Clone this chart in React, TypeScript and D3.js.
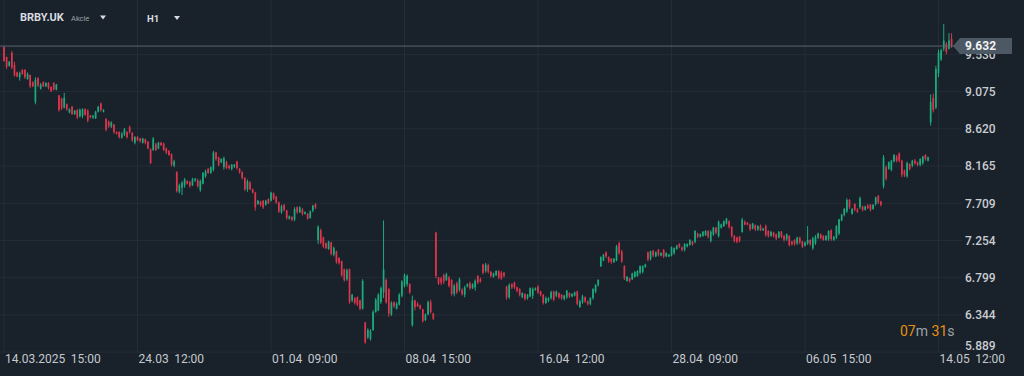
import React from "react";
import * as d3 from "d3";

// ---- data (H1 candles, BRBY.UK) ----
const opens = [
  9.62,9.50,9.39,9.55,9.40,9.31,9.25,9.34,9.34,9.23,
  9.28,9.19,8.95,9.24,9.11,9.19,9.14,9.18,9.13,9.18,
  9.10,9.03,8.99,8.88,8.92,8.82,8.89,8.80,8.85,8.77,
  8.78,8.86,8.84,8.78,8.76,8.75,8.83,8.93,8.83,8.74,
  8.71,8.65,8.67,8.58,8.58,8.51,8.55,8.58,8.64,8.57,
  8.45,8.52,8.50,8.45,8.49,8.46,8.37,8.36,8.43,8.38,
  8.45,8.44,8.38,8.35,8.31,8.17,8.09,7.85,7.90,7.93,
  7.98,7.97,7.93,7.99,7.99,7.87,7.95,8.04,8.13,8.08,
  8.12,8.33,8.27,8.21,8.15,8.21,8.17,8.13,8.16,8.22,
  8.13,8.09,8.02,7.88,7.96,7.88,7.84,7.70,7.73,7.74,
  7.69,7.76,7.74,7.83,7.79,7.72,7.60,7.69,7.62,7.52,
  7.54,7.51,7.66,7.60,7.63,7.58,7.58,7.53,7.62,7.70,
  7.26,7.38,7.29,7.22,7.15,7.23,7.08,7.12,7.04,7.00,
  6.90,6.78,6.90,6.52,6.55,6.56,6.52,6.42,6.25,6.07,
  6.05,6.16,6.38,6.40,6.50,6.62,6.77,6.66,6.35,6.50,
  6.42,6.47,6.58,6.70,6.72,6.72,6.22,6.52,6.48,6.46,
  6.41,6.28,6.35,6.50,6.36,7.35,6.80,6.79,6.83,6.77,
  6.80,6.77,6.60,6.73,6.65,6.65,6.59,6.69,6.73,6.67,
  6.68,6.82,6.78,6.96,6.88,6.95,6.87,6.81,6.83,6.88,
  6.86,6.86,6.69,6.56,6.72,6.74,6.68,6.66,6.56,6.60,
  6.55,6.57,6.58,6.65,6.69,6.63,6.59,6.49,6.52,6.55,
  6.63,6.58,6.61,6.59,6.54,6.56,6.61,6.57,6.58,6.63,
  6.44,6.50,6.56,6.51,6.48,6.55,6.63,6.71,6.94,7.01,
  7.11,7.05,7.03,6.99,7.01,7.22,7.12,6.94,6.76,6.79,
  6.78,6.81,6.82,6.86,6.87,6.93,7.11,7.03,7.13,7.06,
  7.14,7.07,7.14,7.06,7.06,7.07,7.10,7.15,7.21,7.17,
  7.14,7.18,7.20,7.24,7.24,7.34,7.30,7.31,7.32,7.37,
  7.25,7.33,7.41,7.31,7.41,7.43,7.46,7.49,7.42,7.31,
  7.29,7.30,7.36,7.48,7.47,7.45,7.40,7.44,7.39,7.43,
  7.38,7.43,7.37,7.31,7.35,7.33,7.29,7.36,7.31,7.27,
  7.31,7.24,7.26,7.22,7.29,7.24,7.19,7.22,7.26,7.16,
  7.22,7.29,7.33,7.31,7.26,7.27,7.38,7.26,7.29,7.34,
  7.50,7.57,7.61,7.75,7.58,7.70,7.63,7.66,7.67,7.63,
  7.68,7.69,7.64,7.70,7.80,7.73,7.92,8.15,8.13,8.12,
  8.22,8.28,8.32,8.23,8.11,8.04,8.19,8.17,8.23,8.21,
  8.18,8.20,8.30,8.23,8.70,9.00,8.88,9.30,9.47,9.60,
  9.66,9.60,9.72,
];
const highs = [
  9.63,9.50,9.45,9.57,9.44,9.32,9.32,9.35,9.35,9.31,
  9.28,9.20,9.25,9.25,9.18,9.20,9.19,9.19,9.14,9.19,
  9.17,9.03,9.00,9.06,8.93,8.87,8.90,8.85,8.86,8.87,
  8.87,8.87,8.86,8.79,8.79,8.84,8.90,8.94,8.86,8.75,
  8.72,8.71,8.68,8.59,8.59,8.58,8.63,8.59,8.66,8.58,
  8.53,8.53,8.51,8.51,8.50,8.47,8.38,8.52,8.45,8.46,
  8.46,8.45,8.39,8.36,8.32,8.24,8.10,7.95,7.98,8.02,
  7.99,7.98,8.02,8.02,8.01,8.00,8.09,8.12,8.14,8.16,
  8.35,8.34,8.28,8.26,8.28,8.23,8.18,8.19,8.19,8.23,
  8.14,8.10,8.03,8.00,7.98,7.89,7.85,7.75,7.74,7.75,
  7.75,7.77,7.85,7.84,7.80,7.73,7.69,7.70,7.63,7.56,
  7.55,7.66,7.67,7.67,7.65,7.61,7.59,7.62,7.69,7.71,
  7.44,7.40,7.30,7.23,7.25,7.24,7.18,7.13,7.05,7.01,
  6.91,6.91,6.91,6.60,6.56,6.57,6.53,6.78,6.26,6.18,
  6.17,6.40,6.55,6.61,6.69,7.50,6.79,6.67,6.51,6.51,
  6.50,6.61,6.77,6.85,6.84,6.73,6.58,6.53,6.50,6.47,
  6.42,6.36,6.52,6.53,6.37,7.36,6.81,6.81,6.85,6.86,
  6.82,6.78,6.72,6.75,6.80,6.67,6.70,6.73,6.75,6.73,
  6.78,6.83,6.80,6.97,6.98,6.97,6.88,6.86,6.89,6.89,
  6.88,6.87,6.70,6.73,6.73,6.75,6.69,6.67,6.62,6.61,
  6.60,6.68,6.68,6.68,6.71,6.64,6.60,6.57,6.56,6.64,
  6.64,6.64,6.62,6.60,6.59,6.65,6.62,6.61,6.63,6.64,
  6.53,6.59,6.57,6.52,6.56,6.67,6.72,6.78,7.06,7.09,
  7.12,7.06,7.04,7.04,7.20,7.24,7.14,6.95,6.82,6.80,
  6.86,6.88,6.89,6.95,6.95,6.97,7.12,7.13,7.14,7.12,
  7.15,7.11,7.15,7.11,7.09,7.18,7.17,7.20,7.22,7.18,
  7.22,7.22,7.27,7.25,7.38,7.35,7.34,7.37,7.38,7.38,
  7.38,7.42,7.42,7.50,7.46,7.50,7.53,7.50,7.43,7.32,
  7.30,7.31,7.53,7.50,7.48,7.46,7.47,7.45,7.44,7.45,
  7.41,7.45,7.38,7.37,7.36,7.34,7.37,7.37,7.32,7.34,
  7.32,7.25,7.27,7.30,7.30,7.25,7.24,7.43,7.27,7.30,
  7.32,7.35,7.34,7.32,7.32,7.38,7.39,7.31,7.44,7.52,
  7.58,7.65,7.77,7.76,7.65,7.71,7.65,7.79,7.68,7.68,
  7.70,7.70,7.70,7.79,7.81,7.74,8.30,8.17,8.22,8.24,
  8.31,8.30,8.33,8.24,8.12,8.22,8.20,8.24,8.25,8.22,
  8.26,8.29,8.31,8.28,9.04,9.05,9.39,9.59,9.60,9.90,
  9.68,9.79,9.79,
];
const lows = [
  9.44,9.35,9.38,9.35,9.26,9.25,9.21,9.28,9.23,9.22,
  9.12,9.13,8.92,9.13,9.10,9.13,9.13,9.10,9.07,9.09,
  9.09,8.83,8.85,8.87,8.84,8.81,8.79,8.79,8.74,8.76,
  8.75,8.78,8.70,8.75,8.74,8.74,8.82,8.83,8.82,8.59,
  8.63,8.63,8.56,8.55,8.50,8.50,8.53,8.50,8.56,8.46,
  8.43,8.47,8.45,8.44,8.43,8.37,8.19,8.35,8.35,8.37,
  8.41,8.35,8.31,8.29,8.16,8.15,7.84,7.83,7.81,7.90,
  7.94,7.90,7.92,7.97,7.90,7.85,7.94,8.02,8.07,8.07,
  8.10,8.23,8.16,8.20,8.12,8.13,8.12,8.11,8.14,8.12,
  8.07,8.00,7.86,7.85,7.87,7.83,7.62,7.69,7.67,7.64,
  7.68,7.70,7.73,7.75,7.70,7.59,7.58,7.61,7.51,7.51,
  7.49,7.49,7.58,7.59,7.56,7.57,7.51,7.52,7.60,7.64,
  7.21,7.21,7.16,7.15,7.14,7.07,7.06,6.97,6.96,6.81,
  6.75,6.76,6.48,6.50,6.47,6.45,6.40,6.41,5.99,6.05,
  6.03,6.15,6.37,6.39,6.48,6.55,6.48,6.32,6.33,6.43,
  6.41,6.46,6.56,6.68,6.69,6.60,6.20,6.40,6.44,6.41,
  6.25,6.27,6.34,6.36,6.28,6.79,6.71,6.71,6.72,6.76,
  6.68,6.58,6.57,6.60,6.63,6.58,6.56,6.68,6.65,6.66,
  6.64,6.72,6.74,6.84,6.86,6.85,6.80,6.80,6.82,6.78,
  6.77,6.80,6.53,6.54,6.66,6.66,6.62,6.57,6.55,6.52,
  6.53,6.56,6.54,6.64,6.60,6.57,6.47,6.48,6.50,6.53,
  6.51,6.56,6.54,6.53,6.52,6.54,6.55,6.56,6.57,6.46,
  6.43,6.48,6.49,6.46,6.46,6.53,6.61,6.69,6.93,7.00,
  7.04,6.98,6.97,6.98,7.00,7.08,6.98,6.77,6.75,6.74,
  6.77,6.80,6.81,6.84,6.85,6.92,7.00,7.01,7.05,7.05,
  7.06,7.06,7.04,7.05,7.05,7.06,7.08,7.14,7.16,7.12,
  7.12,7.17,7.19,7.19,7.22,7.28,7.29,7.30,7.31,7.28,
  7.23,7.31,7.33,7.29,7.40,7.42,7.45,7.40,7.29,7.23,
  7.22,7.23,7.35,7.44,7.44,7.37,7.39,7.37,7.37,7.37,
  7.37,7.30,7.29,7.30,7.29,7.26,7.28,7.28,7.24,7.25,
  7.18,7.19,7.19,7.20,7.21,7.16,7.18,7.20,7.19,7.14,
  7.20,7.27,7.27,7.25,7.25,7.25,7.25,7.25,7.27,7.32,
  7.49,7.55,7.59,7.64,7.57,7.61,7.59,7.64,7.61,7.62,
  7.64,7.61,7.63,7.68,7.70,7.67,7.89,7.99,8.12,8.10,
  8.21,8.21,8.21,8.03,8.03,8.02,8.11,8.15,8.18,8.16,
  8.16,8.18,8.23,8.22,8.66,8.82,8.86,9.25,9.45,9.57,
  9.53,9.59,9.61,
];
const closes = [
  9.45,9.38,9.44,9.37,9.27,9.26,9.30,9.29,9.25,9.29,
  9.14,9.14,9.22,9.15,9.16,9.14,9.18,9.12,9.08,9.10,
  9.16,8.85,8.87,9.00,8.86,8.86,8.80,8.84,8.76,8.85,
  8.86,8.79,8.72,8.76,8.78,8.83,8.89,8.85,8.85,8.61,
  8.65,8.70,8.58,8.56,8.52,8.56,8.61,8.52,8.58,8.48,
  8.52,8.48,8.47,8.50,8.45,8.38,8.20,8.50,8.36,8.45,
  8.42,8.36,8.33,8.30,8.18,8.22,7.86,7.93,7.96,8.00,
  7.95,7.92,8.00,8.01,7.92,7.98,8.08,8.10,8.08,8.15,
  8.33,8.25,8.18,8.25,8.26,8.14,8.14,8.18,8.18,8.14,
  8.09,8.02,7.88,7.98,7.88,7.84,7.66,7.74,7.69,7.66,
  7.74,7.71,7.84,7.77,7.72,7.61,7.67,7.63,7.53,7.55,
  7.51,7.64,7.60,7.66,7.58,7.60,7.52,7.61,7.68,7.66,
  7.42,7.23,7.18,7.16,7.24,7.09,7.16,6.99,6.98,6.83,
  6.77,6.89,6.50,6.59,6.49,6.47,6.42,6.76,6.01,6.16,
  6.15,6.38,6.53,6.59,6.67,6.90,6.50,6.36,6.49,6.45,
  6.48,6.59,6.75,6.83,6.82,6.62,6.52,6.44,6.45,6.42,
  6.27,6.35,6.50,6.38,6.30,6.82,6.73,6.74,6.75,6.84,
  6.70,6.60,6.70,6.62,6.78,6.60,6.68,6.72,6.67,6.72,
  6.76,6.74,6.75,6.86,6.96,6.87,6.82,6.85,6.88,6.80,
  6.79,6.82,6.56,6.71,6.68,6.68,6.64,6.59,6.61,6.54,
  6.59,6.67,6.66,6.67,6.62,6.59,6.49,6.55,6.55,6.62,
  6.53,6.63,6.56,6.55,6.58,6.64,6.57,6.60,6.62,6.48,
  6.51,6.57,6.51,6.48,6.55,6.66,6.71,6.77,7.05,7.08,
  7.06,7.00,6.99,7.03,7.18,7.10,7.00,6.79,6.81,6.76,
  6.85,6.87,6.88,6.94,6.94,6.96,7.02,7.12,7.07,7.11,
  7.08,7.10,7.06,7.10,7.08,7.17,7.16,7.19,7.18,7.14,
  7.21,7.21,7.26,7.21,7.37,7.30,7.33,7.36,7.37,7.30,
  7.36,7.41,7.35,7.48,7.45,7.49,7.52,7.42,7.31,7.25,
  7.24,7.25,7.51,7.45,7.45,7.39,7.46,7.39,7.43,7.38,
  7.40,7.32,7.31,7.36,7.31,7.28,7.36,7.30,7.26,7.33,
  7.20,7.21,7.21,7.29,7.23,7.18,7.23,7.26,7.21,7.28,
  7.30,7.34,7.28,7.26,7.31,7.37,7.27,7.30,7.43,7.51,
  7.57,7.64,7.75,7.66,7.64,7.63,7.61,7.77,7.63,7.67,
  7.65,7.63,7.69,7.78,7.72,7.69,8.27,8.01,8.21,8.23,
  8.30,8.23,8.23,8.06,8.05,8.20,8.13,8.23,8.20,8.18,
  8.25,8.28,8.25,8.27,8.95,8.85,9.35,9.55,9.58,9.70,
  9.56,9.70,9.632,
];

const priceTicks = [9.53, 9.075, 8.62, 8.165, 7.709, 7.254, 6.799, 6.344, 5.889];
const timeTickIndex = [0, 51, 102, 153, 204, 255, 306, 357];
const timeTickDate = ["14.03.2025", "24.03", "01.04", "08.04", "16.04", "28.04", "06.05", "14.05"];
const timeTickHour = ["15:00", "12:00", "09:00", "15:00", "12:00", "09:00", "15:00", "12:00"];
const lastPrice = 9.632;
const symbol = "BRBY.UK";
const assetType = "Akcie";
const interval = "H1";
const timerMin = "07";
const timerSec = "31";

const W = 1024;
const H = 376;
const BG = "#19212a";
const GRID = "#242d37";
const UP = "#1cab7e";
const DOWN = "#dc364d";
const FONT = "Roboto, 'Noto Sans', sans-serif";

export default function App() {
  const x = d3.scaleLinear().domain([0, 357]).range([4, 938.5]);
  const y = d3.scaleLinear().domain([5.889, 9.53]).range([352.1, 54.4]);
  const plotBottom = y(5.889);
  const idx = d3.range(closes.length);
  const bodyW = 1.7;
  const yLast = y(lastPrice);

  return (
    <svg
      width={W}
      height={H}
      style={{ position: "absolute", left: 0, top: 0, display: "block" }}
      fontFamily={FONT}
    >
      <rect x={0} y={0} width={W} height={H} fill={BG} />

      {/* grid */}
      {priceTicks.map((p) => (
        <line key={"h" + p} x1={0} x2={962} y1={y(p)} y2={y(p)} stroke={GRID} strokeWidth={1} />
      ))}
      {timeTickIndex.map((t) => (
        <line key={"v" + t} x1={x(t)} x2={x(t)} y1={0} y2={plotBottom} stroke={GRID} strokeWidth={1} />
      ))}

      {/* candles */}
      {idx.map((i) => {
        const o = opens[i], c = closes[i], h = highs[i], l = lows[i];
        const col = c >= o ? UP : DOWN;
        const cx = x(i);
        const top = y(Math.max(o, c));
        const bh = Math.max(1, Math.abs(y(o) - y(c)));
        return (
          <g key={i}>
            <line x1={cx} x2={cx} y1={y(h)} y2={y(l)} stroke={col} strokeWidth={1} />
            <rect x={cx - bodyW / 2} y={top} width={bodyW} height={bh} fill={col} />
          </g>
        );
      })}

      {/* last price line */}
      <line x1={0} x2={954} y1={yLast} y2={yLast} stroke="#5b6570" strokeWidth={1} />

      {/* header */}
      <text x={20} y={21} fill="#d8dce0" fontSize={11} fontWeight={700}>{symbol}</text>
      <text x={71} y={21} fill="#98a1a9" fontSize={7.5}>{assetType}</text>
      <polygon points="100,15.5 106,15.5 103,19.5" fill="#d8dce0" />
      <text x={147} y={22} fill="#d8dce0" fontSize={9.5} fontWeight={700}>{interval}</text>
      <polygon points="174,16 180,16 177,20" fill="#d8dce0" />

      {/* price axis labels */}
      {priceTicks.map((p) => (
        <text
          key={"pl" + p}
          x={965}
          y={Math.min(y(p), 346)}
          dy="0.36em"
          fill="#c9cdd2"
          fontSize={12}
          fontWeight={500}
        >
          {p.toFixed(3)}
        </text>
      ))}

      {/* last price tag */}
      <polygon
        points={`953,${yLast} 960,${yLast - 8} 1012,${yLast - 8} 1012,${yLast + 8} 960,${yLast + 8}`}
        fill="#4c5864"
      />
      <text x={965} y={yLast} dy="0.36em" fill="#f0f2f4" fontSize={12} fontWeight={700}>
        {lastPrice.toFixed(3)}
      </text>

      {/* time axis labels */}
      {timeTickIndex.map((t, k) => (
        <text key={"tl" + t} x={x(t) + 1} y={363} fill="#c5c9ce" fontSize={12}>
          <tspan>{timeTickDate[k]}</tspan>
          <tspan dx={5.5}>{timeTickHour[k]}</tspan>
        </text>
      ))}

      {/* candle timer */}
      <text x={900} y={336} fontSize={14}>
        <tspan fill="#e8900f">{timerMin}</tspan>
        <tspan fill="#9aa1a8">m</tspan>
        <tspan dx={3.5} fill="#e8900f">{timerSec}</tspan>
        <tspan fill="#9aa1a8">s</tspan>
      </text>
    </svg>
  );
}
